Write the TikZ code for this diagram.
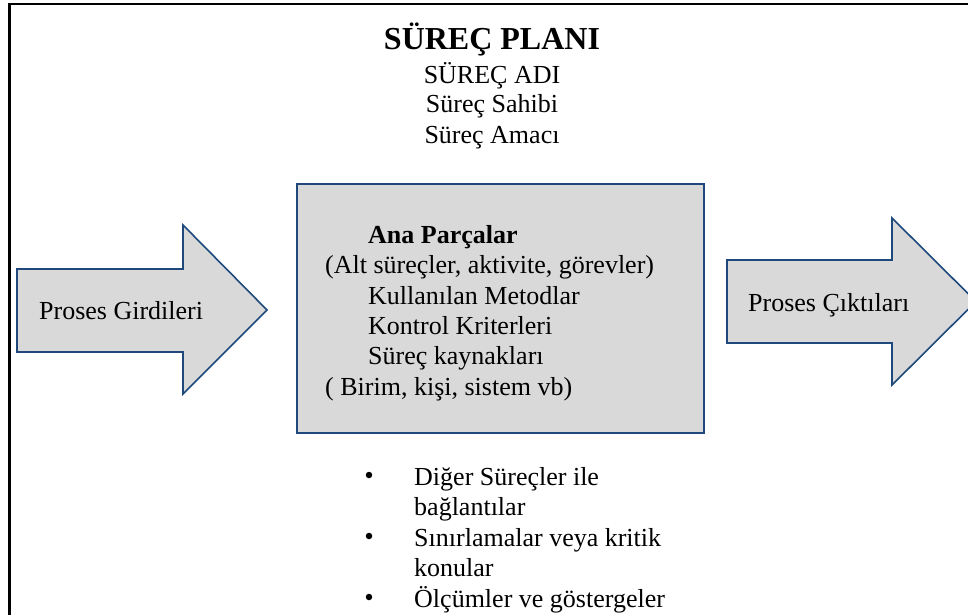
\documentclass[tikz,border=0pt]{standalone}
\usepackage{fontspec}
\setmainfont{Liberation Serif}
\definecolor{edgeblue}{RGB}{31,73,125}
\definecolor{boxgray}{RGB}{217,217,217}
\tikzset{
  shapefill/.style={draw=edgeblue, fill=boxgray, line width=1.6pt, line join=miter},
  txt/.style={inner sep=0pt, font=\fontsize{26}{30}\selectfont},
  txtb/.style={inner sep=0pt, font=\fontsize{26}{30}\selectfont\bfseries},
  ttl/.style={inner sep=0pt, font=\fontsize{32}{36}\selectfont\bfseries},
  bul/.style={circle, fill=black, inner sep=0pt, minimum size=6.5pt},
}
\begin{document}
\begin{tikzpicture}[x=1pt,y=-1pt]
\useasboundingbox (0,0) rectangle (968,615);
\clip (0,0) rectangle (968,615);
\fill[white] (0,0) rectangle (968,615);
% outer frame
\draw[black, line width=2.6pt] (9.5,4) rectangle (985,640);

% title block
\node[ttl, anchor=base] (title) at (492,50) {SÜREÇ PLANI};
\node[txt, anchor=base] (name) at (492,84) {SÜREÇ ADI};
\node[txt, anchor=base] (owner) at (492,113) {Süreç Sahibi};
\node[txt, anchor=base] (aim) at (492,143) {Süreç Amacı};

% input arrow
\draw[shapefill] (17,269) -- (183,269) -- (183,225) -- (267,310) -- (183,394) -- (183,352) -- (17,352) -- cycle;
\node[txt, anchor=base west] (inp) at (39,319) {Proses Girdileri};

% main box
\node[shapefill, rectangle, minimum width=407pt, minimum height=249pt, inner sep=0pt] (main) at (500.5,308.5) {};
\node[txtb, anchor=base west] (m1) at (368,243) {Ana Parçalar};
\node[txt, anchor=base west] (m2) at (325,273) {(Alt süreçler, aktivite, görevler)};
\node[txt, anchor=base west] (m3) at (368,304) {Kullanılan Metodlar};
\node[txt, anchor=base west] (m4) at (368,334) {Kontrol Kriterleri};
\node[txt, anchor=base west] (m5) at (368,364) {Süreç kaynakları};
\node[txt, anchor=base west] (m6) at (325,395) {( Birim, kişi, sistem vb)};

% output arrow
\draw[shapefill] (727,260) -- (892,260) -- (892,218) -- (976,301.5) -- (892,385) -- (892,343) -- (727,343) -- cycle;
\node[txt, anchor=base west] (out) at (748,311) {Proses Çıktıları};

% bullet list
\node[bul] (b1) at (369,475) {};
\node[txt, anchor=base west] (l1) at (414,485) {Diğer Süreçler ile};
\node[txt, anchor=base west] (l1b) at (414,515.5) {bağlantılar};
\node[bul] (b2) at (369,536) {};
\node[txt, anchor=base west] (l2) at (414,546) {Sınırlamalar veya kritik};
\node[txt, anchor=base west] (l2b) at (414,576.5) {konular};
\node[bul] (b3) at (369,597) {};
\node[txt, anchor=base west] (l3) at (414,607) {Ölçümler ve göstergeler};
\end{tikzpicture}
\end{document}
